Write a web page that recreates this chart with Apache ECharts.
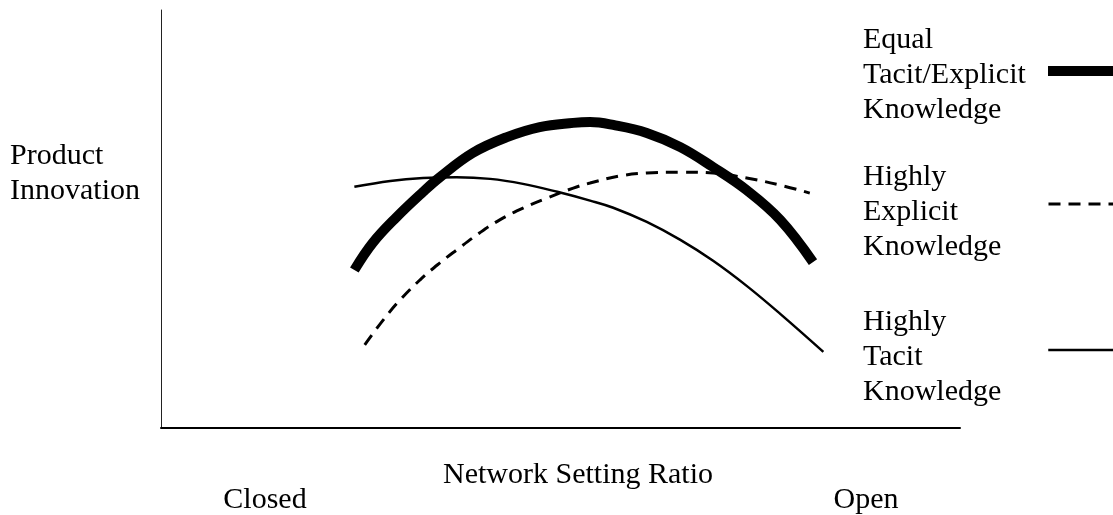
<!DOCTYPE html>
<html>
<head>
<meta charset="utf-8">
<script src="https://cdn.jsdelivr.net/npm/echarts@6/dist/echarts.min.js"></script>
<style>
html,body{margin:0;padding:0;background:#fff;}
#chart{width:1113px;height:515px;}
</style>
</head>
<body>
<div id="chart"></div>
<script>
// Series names (legend labels)
const seriesNames = [
  'Equal\nTacit/Explicit\nKnowledge',
  'Highly\nExplicit\nKnowledge',
  'Highly\nTacit\nKnowledge'
];
// Curves as [networkSettingRatio (0..100), productInnovation (0..100)]
const equalKnowledge = [
  [24.2, 37.8], [26.5, 44.3], [29.5, 50.5], [32.8, 56.5], [34.9, 60.0],
  [39.0, 65.8], [43.3, 69.6], [47.4, 72.0], [51.6, 73.0], [53.7, 73.2],
  [56.6, 72.5], [60.8, 70.6], [65.0, 67.2], [69.1, 62.4], [73.3, 56.9],
  [77.5, 49.8], [81.6, 39.7]
];
const explicitKnowledge = [
  [25.5, 19.9], [27.8, 25.8], [29.9, 30.6], [32.4, 35.4], [34.9, 39.5],
  [37.0, 42.6], [39.9, 46.7], [42.4, 49.8], [45.3, 52.6], [48.3, 55.0],
  [51.6, 57.4], [53.7, 58.6], [57.4, 60.3], [60.8, 61.0], [65.0, 61.2],
  [69.1, 61.0], [73.3, 59.8], [77.5, 58.1], [81.2, 56.2]
];
const tacitKnowledge = [
  [24.2, 57.7], [28.7, 59.1], [32.8, 59.8], [37.0, 60.0], [41.2, 59.6],
  [45.3, 58.4], [49.6, 56.5], [53.7, 54.4], [56.6, 52.7], [60.8, 49.3],
  [65.0, 45.0], [69.1, 40.0], [73.3, 34.0], [77.5, 27.3], [82.9, 18.2]
];
const yAxisTitle = 'Product\nInnovation';
const xAxisTitle = 'Network Setting Ratio';
const xEndLabels = ['Closed', 'Open'];

const FONT = '"Liberation Serif", "Times New Roman", serif';
const FS = 30;

const chart = echarts.init(document.getElementById('chart'), null, {renderer: 'canvas'});

// legend draws only the line sample; its label is drawn as separate text
function legendFor(name, left, top, width, dash) {
  return {
    show: true,
    data: [name],
    left: left,
    top: top,
    orient: 'vertical',
    align: 'left',
    padding: 0,
    itemWidth: 80,
    itemHeight: 4,
    selectedMode: false,
    formatter: function () { return ''; },
    itemStyle: {opacity: 0, color: '#000'},
    lineStyle: {width: width, type: dash, color: '#000', opacity: 1},
    textStyle: {fontSize: 1}
  };
}
function legendLabel(text, top) {
  return {type: 'text', left: 863, top: top,
    style: {text: text, font: FS + 'px ' + FONT, lineHeight: 35, fill: '#000'}};
}

chart.setOption({
  animation: false,
  backgroundColor: '#fff',
  grid: {left: 161, right: 153, top: 10, bottom: 87, containLabel: false},
  xAxis: {
    type: 'value', min: 0, max: 100,
    axisLine: {show: true, onZero: false, lineStyle: {color: '#000', width: 2}},
    axisTick: {show: false}, axisLabel: {show: false}, splitLine: {show: false}
  },
  yAxis: {
    type: 'value', min: 0, max: 100,
    axisLine: {show: true, onZero: false, lineStyle: {color: '#222', width: 1}},
    axisTick: {show: false}, axisLabel: {show: false}, splitLine: {show: false}
  },
  legend: [
    legendFor(seriesNames[0], 1043, 66, 10, 'solid'),
    legendFor(seriesNames[1], 1047, 202, 3, [12, 8]),
    legendFor(seriesNames[2], 1047, 348, 2.5, 'solid')
  ],
  series: [
    {
      name: seriesNames[0], type: 'line', data: equalKnowledge, smooth: 0.4,
      symbol: 'none', itemStyle: {color: '#000'},
      lineStyle: {color: '#000', width: 10, cap: 'butt'}
    },
    {
      name: seriesNames[1], type: 'line', data: explicitKnowledge, smooth: 0.4,
      symbol: 'none', itemStyle: {color: '#000'},
      lineStyle: {color: '#000', width: 3, type: [12, 8]}
    },
    {
      name: seriesNames[2], type: 'line', data: tacitKnowledge, smooth: 0.4,
      symbol: 'none', itemStyle: {color: '#000'},
      lineStyle: {color: '#000', width: 2.5}
    }
  ],
  graphic: [
    {type: 'text', left: 10, top: 139, style: {text: yAxisTitle, font: FS + 'px ' + FONT, lineHeight: 35, fill: '#000'}},
    {type: 'text', x: 578, y: 475, style: {text: xAxisTitle, font: FS + 'px ' + FONT, fill: '#000', align: 'center', verticalAlign: 'middle'}},
    {type: 'text', x: 265, y: 500, style: {text: xEndLabels[0], font: FS + 'px ' + FONT, fill: '#000', align: 'center', verticalAlign: 'middle'}},
    {type: 'text', x: 866, y: 500, style: {text: xEndLabels[1], font: FS + 'px ' + FONT, fill: '#000', align: 'center', verticalAlign: 'middle'}},
    legendLabel(seriesNames[0], 23),
    legendLabel(seriesNames[1], 160),
    legendLabel(seriesNames[2], 305)
  ]
});
</script>
</body>
</html>
